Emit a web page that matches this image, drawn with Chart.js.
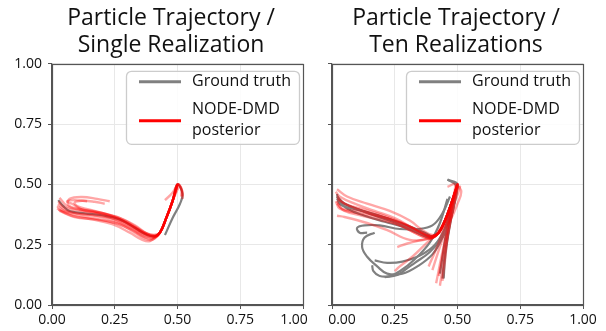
<!DOCTYPE html>
<html>
<head>
<meta charset="utf-8">
<script src="https://cdn.jsdelivr.net/npm/chart.js@4.4.1/dist/chart.umd.min.js"></script>
<style>
  body { margin: 0; background: #fff; width: 606px; height: 331px; overflow: hidden; position: relative; }
  canvas { position: absolute; top: 0; }
  #left { left: 0; }
  #right { left: 310px; }
</style>
</head>
<body>
<canvas id="left" width="340" height="331"></canvas>
<canvas id="right" width="292" height="331"></canvas>
<script>
// ---- data ----
const tickValues = [0, 0.25, 0.5, 0.75, 1];
const leftTitle = ['Particle Trajectory /', 'Single Realization'];
const rightTitle = ['Particle Trajectory /', 'Ten Realizations'];
const legendLabels = ['Ground truth', 'NODE-DMD', 'posterior'];

// single realization: ground truth
const leftTruth = [[0.45,0.29],[0.48,0.36],[0.51,0.42],[0.52,0.46],[0.50,0.50],[0.48,0.43],[0.455,0.36],[0.43,0.30],[0.41,0.285],[0.38,0.29],[0.33,0.32],[0.27,0.355],[0.20,0.372],[0.13,0.38],[0.07,0.39],[0.045,0.41],[0.025,0.435]];

// single realization: posterior samples
const leftPosterior = [
  [[0.52,0.44],[0.52,0.47],[0.50,0.50],[0.48,0.43],[0.455,0.36],[0.43,0.30],[0.41,0.285],[0.38,0.29],[0.33,0.32],[0.26,0.355],[0.18,0.37],[0.10,0.38],[0.05,0.39],[0.02,0.41]],
  [[0.50,0.50],[0.48,0.43],[0.455,0.36],[0.43,0.30],[0.40,0.275],[0.37,0.28],[0.32,0.31],[0.25,0.34],[0.17,0.355],[0.09,0.365],[0.03,0.39]],
  [[0.515,0.45],[0.515,0.48],[0.50,0.50],[0.48,0.43],[0.455,0.36],[0.43,0.30],[0.39,0.265],[0.36,0.27],[0.31,0.30],[0.24,0.335],[0.16,0.355],[0.08,0.37],[0.025,0.395]],
  [[0.50,0.50],[0.48,0.43],[0.455,0.36],[0.43,0.30],[0.41,0.29],[0.37,0.30],[0.31,0.335],[0.24,0.37],[0.16,0.39],[0.10,0.40],[0.065,0.415],[0.07,0.44],[0.12,0.448],[0.18,0.44],[0.23,0.43]],
  [[0.505,0.49],[0.48,0.43],[0.455,0.36],[0.43,0.30],[0.41,0.285],[0.36,0.30],[0.30,0.34],[0.22,0.375],[0.15,0.395],[0.10,0.41],[0.09,0.425],[0.12,0.432],[0.17,0.428],[0.21,0.42]],
  [[0.50,0.50],[0.48,0.43],[0.455,0.36],[0.43,0.30],[0.415,0.285],[0.38,0.295],[0.33,0.33],[0.26,0.365],[0.18,0.385],[0.11,0.395],[0.06,0.41],[0.03,0.445]],
  [[0.45,0.435],[0.48,0.465],[0.50,0.50],[0.48,0.43],[0.455,0.36],[0.43,0.30],[0.40,0.28],[0.37,0.285],[0.32,0.315],[0.25,0.35],[0.17,0.37],[0.10,0.38],[0.05,0.395],[0.025,0.42]],
  [[0.52,0.45],[0.515,0.485],[0.50,0.50],[0.48,0.43],[0.455,0.36],[0.43,0.30],[0.405,0.28],[0.37,0.29],[0.32,0.32],[0.25,0.355],[0.18,0.38],[0.12,0.395],[0.08,0.42],[0.06,0.43],[0.09,0.435],[0.14,0.43]],
  [[0.50,0.50],[0.48,0.43],[0.455,0.36],[0.43,0.30],[0.41,0.29],[0.38,0.295],[0.34,0.32],[0.27,0.36],[0.19,0.38],[0.11,0.39],[0.05,0.405],[0.025,0.43]],
  [[0.50,0.50],[0.48,0.43],[0.455,0.36],[0.43,0.30],[0.40,0.27],[0.37,0.275],[0.33,0.30],[0.27,0.335],[0.19,0.355],[0.11,0.37],[0.05,0.385],[0.02,0.40]]
];

// ten realizations: ground truth
const rightTruth = [
  [[0.46,0.52],[0.50,0.50],[0.475,0.42],[0.45,0.35],[0.425,0.30],[0.40,0.28],[0.37,0.285],[0.33,0.305],[0.27,0.335],[0.20,0.36],[0.12,0.39],[0.05,0.42],[0.02,0.45]],
  [[0.50,0.50],[0.475,0.42],[0.45,0.35],[0.425,0.30],[0.395,0.28],[0.34,0.30],[0.28,0.325],[0.21,0.345],[0.13,0.37],[0.06,0.40],[0.02,0.44]],
  [[0.44,0.11],[0.445,0.17],[0.455,0.25],[0.47,0.34],[0.49,0.44],[0.50,0.49],[0.475,0.42],[0.45,0.35],[0.425,0.30],[0.39,0.285],[0.35,0.30],[0.30,0.325],[0.23,0.355],[0.15,0.38],[0.07,0.41],[0.025,0.43]],
  [[0.43,0.13],[0.44,0.20],[0.455,0.30],[0.475,0.40],[0.495,0.48],[0.475,0.42],[0.45,0.35],[0.425,0.30],[0.40,0.285],[0.37,0.30],[0.30,0.33],[0.22,0.36],[0.14,0.385],[0.08,0.40],[0.03,0.42],[0.02,0.46]],
  [[0.47,0.45],[0.44,0.38],[0.40,0.33],[0.34,0.315],[0.27,0.315],[0.19,0.33],[0.13,0.33],[0.10,0.32],[0.11,0.30],[0.14,0.30]],
  [[0.485,0.44],[0.465,0.36],[0.44,0.28],[0.40,0.21],[0.34,0.16],[0.28,0.13],[0.22,0.13],[0.18,0.16],[0.14,0.20],[0.12,0.24],[0.13,0.28],[0.17,0.30]],
  [[0.47,0.40],[0.45,0.32],[0.41,0.25],[0.35,0.205],[0.28,0.18],[0.22,0.175],[0.17,0.185]],
  [[0.46,0.44],[0.43,0.34],[0.39,0.26],[0.33,0.19],[0.27,0.14],[0.23,0.12],[0.19,0.12],[0.165,0.14],[0.16,0.165]],
  [[0.50,0.50],[0.49,0.44],[0.475,0.36],[0.46,0.27],[0.45,0.19],[0.445,0.11]],
  [[0.46,0.52],[0.495,0.495],[0.49,0.43],[0.47,0.35],[0.44,0.28],[0.39,0.22],[0.33,0.175],[0.29,0.145],[0.26,0.125],[0.21,0.115]]
];

// ten realizations: posterior samples
const rightPosterior = [
  [[0.43,0.08],[0.44,0.15],[0.455,0.25],[0.475,0.36],[0.495,0.46],[0.50,0.50],[0.475,0.42],[0.45,0.35],[0.425,0.30],[0.40,0.28],[0.36,0.30],[0.29,0.335],[0.22,0.36],[0.14,0.385],[0.07,0.41],[0.02,0.44]],
  [[0.415,0.09],[0.43,0.17],[0.45,0.27],[0.47,0.37],[0.49,0.46],[0.50,0.50],[0.475,0.42],[0.45,0.35],[0.425,0.30],[0.39,0.275],[0.33,0.30],[0.27,0.33],[0.20,0.35],[0.12,0.37],[0.05,0.39],[0.02,0.42]],
  [[0.385,0.16],[0.41,0.22],[0.44,0.30],[0.47,0.40],[0.50,0.49],[0.515,0.47],[0.50,0.42],[0.47,0.35],[0.43,0.30],[0.40,0.29],[0.36,0.31],[0.31,0.35],[0.23,0.39],[0.14,0.42],[0.06,0.45],[0.02,0.48]],
  [[0.40,0.145],[0.42,0.21],[0.445,0.29],[0.47,0.38],[0.49,0.47],[0.50,0.50],[0.475,0.42],[0.45,0.35],[0.425,0.30],[0.39,0.275],[0.31,0.27],[0.22,0.31],[0.14,0.34],[0.05,0.365],[0.02,0.37]],
  [[0.44,0.10],[0.45,0.18],[0.46,0.28],[0.48,0.39],[0.50,0.48],[0.51,0.49],[0.49,0.43],[0.46,0.355],[0.425,0.30],[0.40,0.285],[0.33,0.31],[0.26,0.345],[0.18,0.37],[0.10,0.39],[0.04,0.40],[0.02,0.43]],
  [[0.425,0.12],[0.44,0.20],[0.46,0.31],[0.48,0.41],[0.50,0.50],[0.475,0.42],[0.45,0.35],[0.425,0.30],[0.40,0.28],[0.36,0.285],[0.31,0.31],[0.24,0.345],[0.16,0.37],[0.08,0.385],[0.03,0.40],[0.015,0.43]],
  [[0.50,0.50],[0.475,0.42],[0.45,0.35],[0.425,0.30],[0.40,0.285],[0.37,0.29],[0.32,0.32],[0.25,0.36],[0.17,0.39],[0.09,0.42],[0.03,0.45],[0.015,0.47]],
  [[0.50,0.50],[0.475,0.42],[0.45,0.35],[0.425,0.30],[0.40,0.28],[0.36,0.27],[0.30,0.255],[0.26,0.24]],
  [[0.46,0.49],[0.49,0.50],[0.475,0.42],[0.45,0.35],[0.425,0.30],[0.39,0.285],[0.34,0.31],[0.28,0.34],[0.21,0.37],[0.13,0.395],[0.05,0.42],[0.02,0.45]],
  [[0.50,0.50],[0.475,0.42],[0.45,0.35],[0.42,0.30],[0.38,0.26],[0.32,0.20],[0.27,0.16],[0.25,0.14]]
];

const truthColor = '#808080';
const postColor = 'rgba(255,0,0,0.35)';

function toPoints(arr) {
  return arr.map(p => ({ x: p[0], y: p[1] }));
}

function lineSet(arr, color, width) {
  return {
    data: toPoints(arr),
    showLine: true,
    borderColor: color,
    borderWidth: width,
    pointRadius: 0,
    tension: 0.4,
    fill: false
  };
}

// frame on all four sides (matplotlib spines)
const framePlugin = {
  id: 'frame',
  afterDatasetsDraw(chart) {
    const a = chart.chartArea;
    const ctx = chart.ctx;
    ctx.save();
    ctx.strokeStyle = '#555';
    ctx.lineWidth = 1.2;
    ctx.strokeRect(Math.round(a.left) + 0.5, Math.round(a.top) + 0.5, Math.round(a.right - a.left), Math.round(a.bottom - a.top));
    ctx.restore();
  }
};

// title centre and outer x tick labels placed like the original figure
const nudge = {
  id: 'nudge',
  afterLayout(chart, args, opts) {
    if (chart.titleBlock) chart.titleBlock.left = opts.titleLeft;
  },
  beforeDraw(chart, args, opts) {
    const items = chart.scales.x.getLabelItems();
    if (opts.first) items[0].options.translation[0] += opts.first;
    if (opts.last) items[items.length - 1].options.translation[0] += opts.last;
  }
};

// legend box drawn inside the plot, upper right
const boxLegend = {
  id: 'boxLegend',
  afterDraw(chart) {
    const a = chart.chartArea;
    const ctx = chart.ctx;
    const w = 173, h = 73;
    const x0 = a.right - 4 - w, y0 = a.top + 7;
    ctx.save();
    ctx.beginPath();
    ctx.roundRect(x0 + 0.5, y0 + 0.5, w, h, 5);
    ctx.fillStyle = 'rgba(255,255,255,0.85)';
    ctx.fill();
    ctx.strokeStyle = '#cccccc';
    ctx.lineWidth = 1.3;
    ctx.stroke();

    ctx.lineWidth = 3;
    ctx.strokeStyle = truthColor;
    ctx.beginPath();
    ctx.moveTo(x0 + 13, y0 + 11);
    ctx.lineTo(x0 + 55, y0 + 11);
    ctx.stroke();
    ctx.strokeStyle = '#ff0000';
    ctx.beginPath();
    ctx.moveTo(x0 + 13, y0 + 50);
    ctx.lineTo(x0 + 55, y0 + 50);
    ctx.stroke();

    ctx.fillStyle = '#111';
    ctx.font = '16px "Open Sans"';
    ctx.textBaseline = 'middle';
    ctx.fillText(legendLabels[0], x0 + 66, y0 + 11);
    ctx.fillText(legendLabels[1], x0 + 66, y0 + 39);
    ctx.fillText(legendLabels[2], x0 + 66, y0 + 60);
    ctx.restore();
  }
};

function makeScale(showLabels, fitSize, axis) {
  return {
    type: 'linear',
    min: 0,
    max: 1,
    afterBuildTicks: s => { s.ticks = tickValues.map(v => ({ value: v })); },
    afterFit: s => {
      if (axis === 'x') s.height = fitSize; else s.width = fitSize;
    },
    ticks: {
      display: showLabels,
      callback: v => Number(v).toFixed(2),
      font: { family: 'Open Sans', size: 14 },
      color: '#111',
      padding: axis === 'x' ? 3 : 6,
      maxRotation: 0,
      autoSkip: false
    },
    grid: { color: '#e8e8e8', tickColor: '#555', tickLength: 4, lineWidth: 1 },
    border: { color: '#555', width: 1.2 }
  };
}

function makeChart(id, title, truthSets, postSets, cfg) {
  // Chart.js paints dataset 0 last, so the posterior goes first to sit on top
  const datasets = [];
  postSets.forEach(p => datasets.push(lineSet(p, postColor, 2.4)));
  truthSets.forEach(t => datasets.push(lineSet(t, truthColor, 2.2)));
  return new Chart(document.getElementById(id), {
    type: 'scatter',
    data: { datasets: datasets },
    options: {
      responsive: false,
      animation: false,
      devicePixelRatio: 1,
      layout: { padding: { left: 0, right: cfg.padRight, top: 0, bottom: 0 } },
      plugins: {
        legend: { display: false },
        tooltip: { enabled: false },
        title: {
          display: true,
          text: title,
          color: '#111',
          font: { family: 'Open Sans', size: 23, weight: 'normal', lineHeight: 1.17 },
          padding: { top: 5, bottom: 5 }
        },
        nudge: { titleLeft: cfg.titleLeft, first: cfg.first, last: cfg.last }
      },
      scales: {
        x: makeScale(true, 26, 'x'),
        y: makeScale(cfg.yLabels, cfg.yWidth, 'y')
      }
    },
    plugins: [framePlugin, nudge, boxLegend]
  });
}

makeChart('left', leftTitle, [leftTruth], leftPosterior, { yWidth: 52, padRight: 37, yLabels: true, titleLeft: 39, first: 0, last: -9 });
makeChart('right', rightTitle, rightTruth, rightPosterior, { yWidth: 22, padRight: 19, yLabels: false, titleLeft: 19, first: 10, last: 0 });
</script>
</body>
</html>
